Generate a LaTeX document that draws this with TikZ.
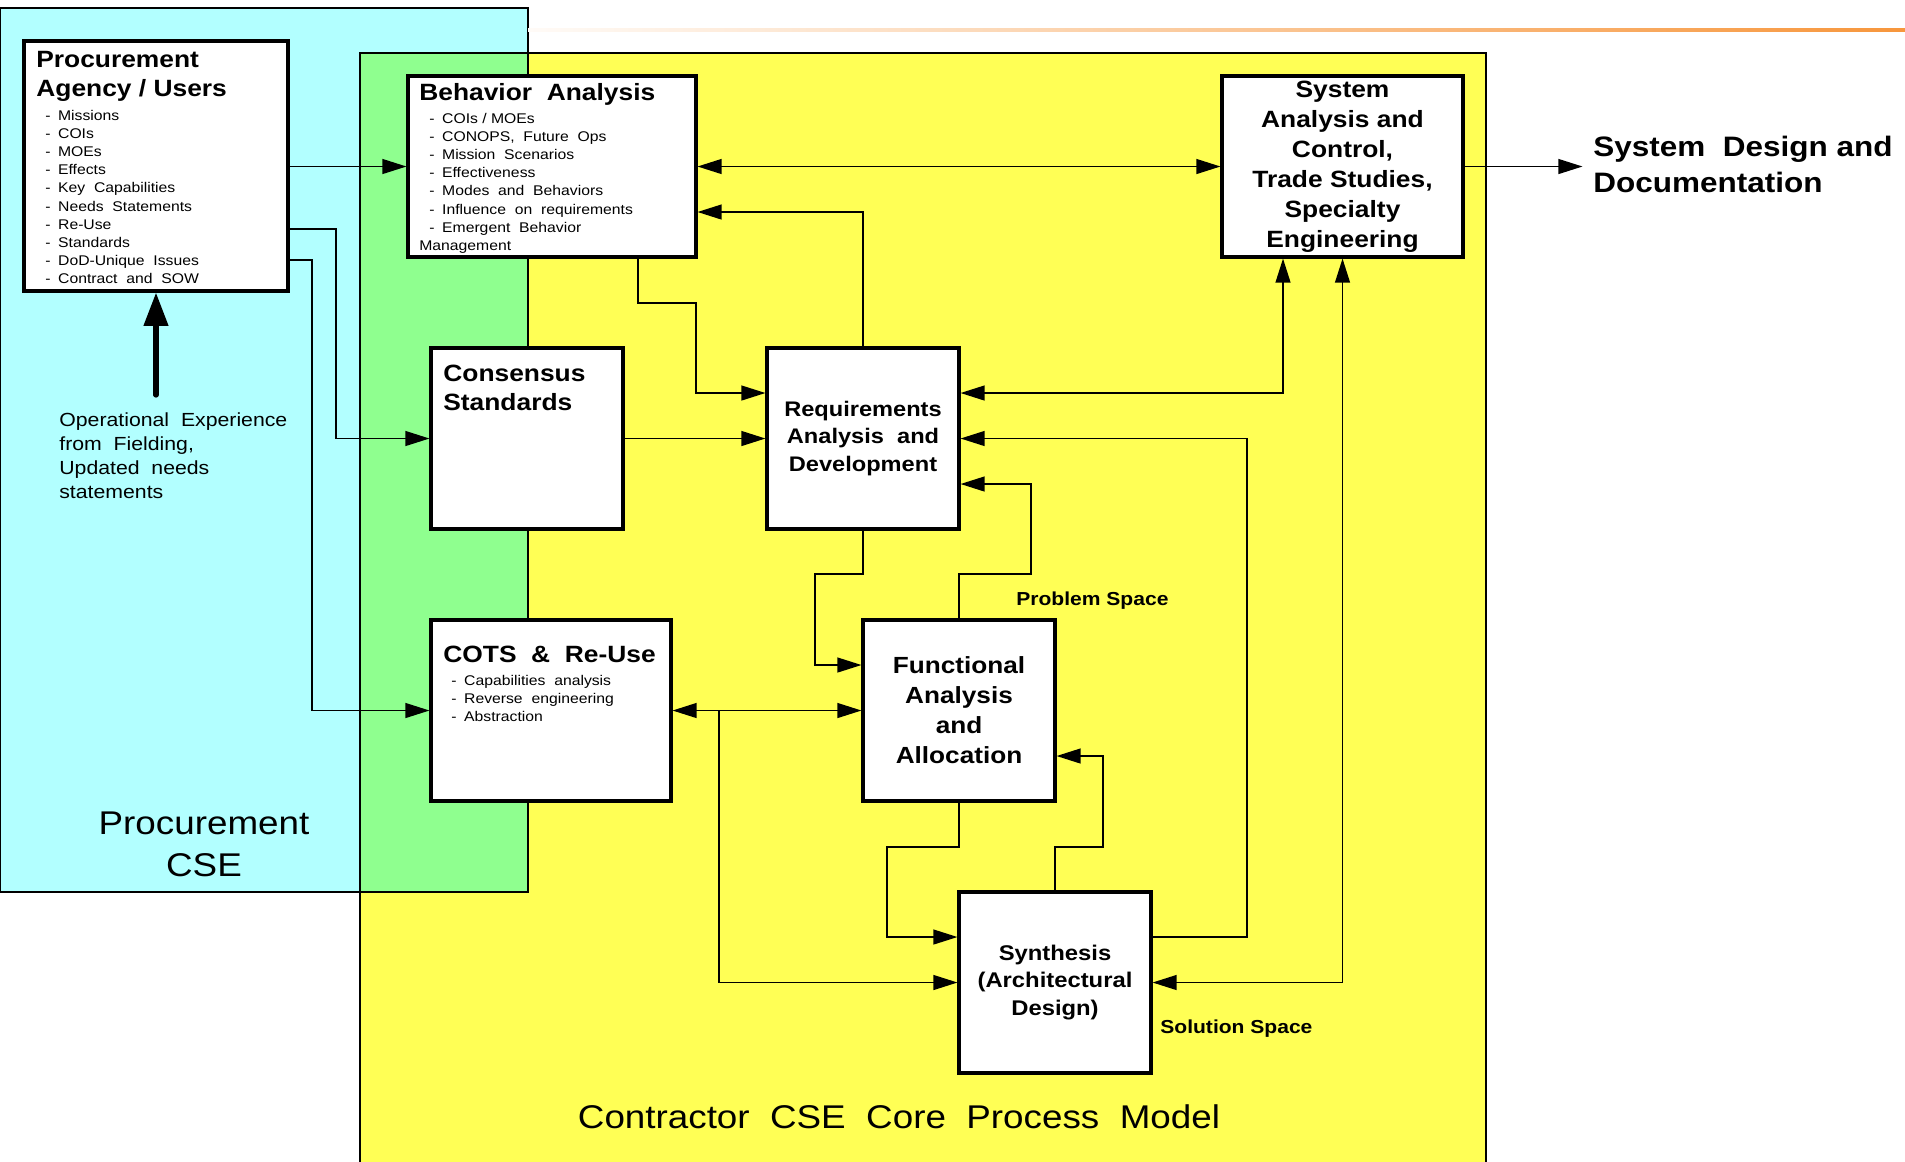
\documentclass[tikz,border=0pt]{standalone}
\usepackage{fontspec}
\setmainfont{Liberation Sans}[FakeStretch=1.12]
\usetikzlibrary{arrows.meta}

\definecolor{cyanbg}{RGB}{178,255,255}
\definecolor{greenbg}{RGB}{143,255,143}
\definecolor{yellowbg}{RGB}{255,255,85}
\definecolor{orangeline}{RGB}{247,150,60}

\newcommand{\itemdash}{-\hspace{4.3pt}}

\tikzset{
  box/.style={draw, line width=1.8pt, fill=white, inner sep=0pt, minimum height=3.62cm},
  head/.style={anchor=north west, inner sep=0pt, align=left, font=\fontsize{13.4}{16.5}\selectfont\bfseries},
  lst/.style={anchor=north west, inner sep=0pt, align=left, font=\fontsize{8}{10.3}\selectfont},
  link/.style={line width=0.8pt, -{Triangle[length=13.7pt,width=8.5pt]}},
  twoway/.style={line width=0.8pt, {Triangle[length=13.7pt,width=8.5pt]}-{Triangle[length=13.7pt,width=8.5pt]}},
  note/.style={anchor=base west, inner sep=0pt, font=\fontsize{10.7}{13}\selectfont\bfseries}
}

\begin{document}
\begin{tikzpicture}[x=0.02cm, y=-0.02cm]

    % --- Frame ---
    \useasboundingbox (0,0) rectangle (1905,1161);
    \clip (0,0) rectangle (1905,1161);

    % --- Background regions ---
    % Procurement (cyan), Contractor (yellow) and their overlap (green)
    \fill[cyanbg] (0,8) rectangle (528,892);
    \fill[yellowbg] (360,53) rectangle (1486,1175);
    \fill[greenbg] (360,53) rectangle (528,892);
    \draw[line width=0.75pt] (0,8) rectangle (528,892);
    \draw[line width=0.75pt] (360,53) rectangle (1486,1175);

    % Header rule
    \shade[left color=orangeline!4, right color=orangeline] (528,28.5) rectangle (1905,31);

    % --- Boxes ---
    \node[box, minimum width=5.28cm, minimum height=5cm] (PA) at (156,166) {};
    \node[box, minimum width=5.76cm] (BA) at (552,166.5) {};
    \node[box, minimum width=4.82cm, align=center,
          font=\fontsize{13.4}{17.1}\selectfont\bfseries] (SA) at (1342.5,166.5)
          {System\\Analysis and\\Control,\\Trade Studies,\\Specialty\\Engineering};
    \node[box, minimum width=3.84cm] (CS) at (527,438.5) {};
    \node[box, minimum width=3.84cm, align=center,
          font=\fontsize{12}{15.6}\selectfont\bfseries] (RA) at (863,438.5)
          {Requirements\\Analysis\ \ and\\Development};
    \node[box, minimum width=4.8cm] (CO) at (551,710.5) {};
    \node[box, minimum width=3.84cm, align=center,
          font=\fontsize{13.3}{17.1}\selectfont\bfseries] (FA) at (959,710.5)
          {Functional\\Analysis\\and\\Allocation};
    \node[box, minimum width=3.84cm, align=center,
          font=\fontsize{12.1}{15.9}\selectfont\bfseries] (SY) at (1055,982.5)
          {Synthesis\\(Architectural\\Design)};

    % --- Box texts ---
    \node[head] at (36,51) {Procurement\\Agency / Users};
    \node[lst] at (45,110) {\itemdash Missions\\\itemdash COIs\\\itemdash MOEs\\\itemdash Effects\\
        \itemdash Key\ \ Capabilities\\\itemdash Needs\ \ Statements\\\itemdash Re-Use\\
        \itemdash Standards\\\itemdash DoD-Unique\ \ Issues\\\itemdash Contract\ \ and\ \ SOW};

    \node[head] at (419,83) {Behavior\ \ Analysis};
    \node[lst] at (429,113) {\itemdash COIs / MOEs\\\itemdash CONOPS,\ \ Future\ \ Ops\\
        \itemdash Mission\ \ Scenarios\\\itemdash Effectiveness\\\itemdash Modes\ \ and\ \ Behaviors\\
        \itemdash Influence\ \ on\ \ requirements\\\itemdash Emergent\ \ Behavior\\
        \hspace*{-5.7pt}Management};

    \node[head] at (443,365) {Consensus\\Standards};

    \node[head] at (443,646) {COTS\ \ \&\ \ Re-Use};
    \node[lst] at (451,675) {\itemdash Capabilities\ \ analysis\\\itemdash Reverse\ \ engineering\\
        \itemdash Abstraction};

    % --- Free texts ---
    \node[anchor=north west, inner sep=0pt, align=left,
          font=\fontsize{10.8}{13.8}\selectfont] (OE) at (59,412)
          {Operational\ \ Experience\\from\ \ Fielding,\\Updated\ \ needs\\statements};
    \node[anchor=north, inner sep=0pt, align=center,
          font=\fontsize{18.7}{23.9}\selectfont] (PC) at (204,811.5) {Procurement\\CSE};
    \node[anchor=base, inner sep=0pt, font=\fontsize{18.7}{23.9}\selectfont] (CC) at (899,1128)
          {Contractor\ \ CSE\ \ Core\ \ Process\ \ Model};
    \node[anchor=north west, inner sep=0pt, align=left,
          font=\fontsize{16}{20.5}\selectfont\bfseries] (SD) at (1593,136)
          {System\ \ Design and\\Documentation};
    \node[note] (PS) at (1016,605) {Problem Space};
    \node[note] (SS) at (1160,1033) {Solution Space};

    % --- Bend points ---
    \coordinate (oe) at (156,395);
    \coordinate (p1) at (336,229);
    \coordinate (p2) at (312,260);
    \coordinate (ba1) at (638,303);
    \coordinate (ba2) at (696,393);
    \coordinate (rb) at (863,212);
    \coordinate (sa1) at (1283,393);
    \coordinate (sy1) at (1247,937);
    \coordinate (fa1) at (1031,574);
    \coordinate (fa2) at (1031,484);
    \coordinate (ra1) at (815,574);
    \coordinate (ra2) at (815,665);
    \coordinate (co1) at (719,710.5);
    \coordinate (fs1) at (887,847);
    \coordinate (fs2) at (887,937);
    \coordinate (sf1) at (1103,847);
    \coordinate (sf2) at (1103,756);

    % --- Connectors ---
    \draw[line width=3pt, line cap=round, -{Triangle[length=19pt,width=13.5pt]}] (oe) -- (PA.south);
    \draw[link] (PA.east |- BA.west) -- (BA.west);
    \draw[link] (PA.east |- p1) -- (p1) |- (CS.west);
    \draw[link] (PA.east |- p2) -- (p2) |- (CO.west);
    \draw[twoway] (BA.east) -- (SA.west);
    \draw[link] (SA.east) -- ([xshift=-6pt]SD.west |- SA.east);
    \draw[link] (RA.north) -- (rb) -- (BA.east |- rb);
    \draw[link] (ba1 |- BA.south) -- (ba1) -| (ba2) -- (RA.west |- ba2);
    \draw[link] (CS.east) -- (RA.west);
    \draw[twoway] (sa1 |- SA.south) -- (sa1) -- (RA.east |- sa1);
    \draw[link] (SY.east |- sy1) -- (sy1) |- (RA.east);
    \draw[link] (FA.north) |- (fa1) -- (fa2) -- (RA.east |- fa2);
    \draw[link] (RA.south) |- (ra1) -- (ra2) -- (FA.west |- ra2);
    \draw[twoway] (CO.east) -- (FA.west);
    \draw[link] (co1) |- (SY.west);
    \draw[link] (FA.south) |- (fs1) -- (fs2) -- (SY.west |- fs2);
    \draw[link] (SY.north) |- (sf1) -- (sf2) -- (FA.east |- sf2);
    \draw[twoway] (SY.east) -| (SA.south);

\end{tikzpicture}
\end{document}
